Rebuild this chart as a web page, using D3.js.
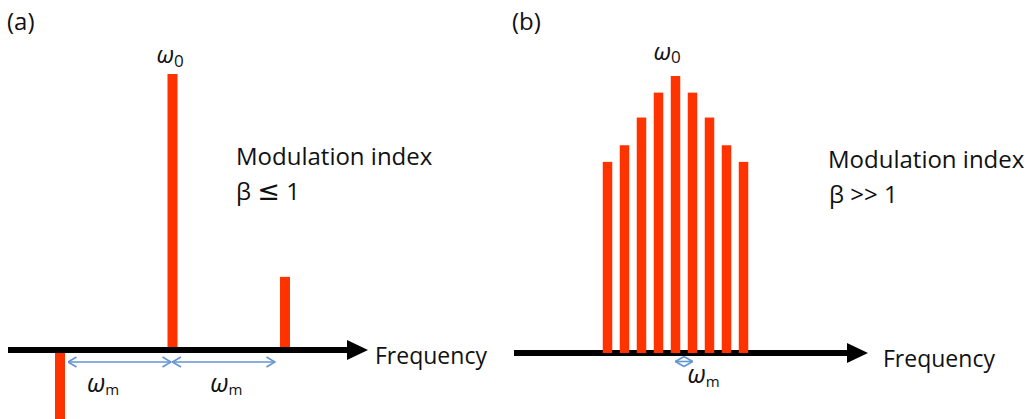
<!DOCTYPE html>
<html>
<head>
<meta charset="utf-8">
<script src="https://cdn.jsdelivr.net/npm/d3@7"></script>
<style>
  html, body { margin: 0; padding: 0; background: #ffffff; }
  svg { display: block; }
  text { font-family: "Open Sans", "DejaVu Sans", sans-serif; fill: #111; }
</style>
</head>
<body>
<svg id="chart" width="1031" height="419"></svg>
<script>
// Sideband orders and relative amplitudes of the phase-modulated spectrum
const ordersA = [-1, 0, 1];
const amplitudesA = [-0.265, 1, 0.265];          // small beta: carrier + first sidebands
const ordersB = [-4, -3, -2, -1, 0, 1, 2, 3, 4];
const amplitudesB = [0.69, 0.75, 0.85, 0.94, 1, 0.94, 0.85, 0.75, 0.69]; // large beta

const panelLabels = ["(a)", "(b)"];
const axisLabel = "Frequency";
const indexTitle = "Modulation index";
const betaRelations = [["≤", "1"], [">>", "1"]];

const barColor = "#ff3300";
const spacingColor = "#6495d2";

const svg = d3.select("#chart");
const defs = svg.append("defs");

// Open chevron head for the spacing arrows
defs.append("marker")
  .attr("id", "chev")
  .attr("viewBox", "0 0 10 12")
  .attr("refX", 9.5).attr("refY", 6)
  .attr("markerWidth", 10).attr("markerHeight", 12)
  .attr("markerUnits", "userSpaceOnUse")
  .attr("orient", "auto-start-reverse")
  .append("path")
  .attr("d", "M1,1 L9.5,6 L1,11")
  .attr("fill", "none")
  .attr("stroke", spacingColor)
  .attr("stroke-width", 1.6);

function frequencyAxis(g, x0, x1, y) {
  g.append("line")
    .attr("x1", x0).attr("x2", x1 - 18)
    .attr("y1", y).attr("y2", y)
    .attr("stroke", "#000").attr("stroke-width", 6);
  g.append("path")
    .attr("d", `M${x1 - 21},${y - 10} L${x1},${y} L${x1 - 21},${y + 10} Z`)
    .attr("fill", "#000");
}

function bars(g, orders, amps, x, y, w) {
  g.selectAll("rect.bar")
    .data(orders.map((o, i) => ({ o, a: amps[i] })))
    .join("rect")
    .attr("class", "bar")
    .attr("x", d => x(d.o) - w / 2)
    .attr("width", w)
    .attr("y", d => Math.min(y(d.a), y(0)))
    .attr("height", d => Math.abs(y(d.a) - y(0)))
    .attr("fill", barColor);
}

function omega(g, px, py, sub, size, subSize, subShift) {
  const t = g.append("text")
    .attr("x", px).attr("y", py)
    .style("font-size", size + "px");
  t.append("tspan").text("ω").style("font-style", "italic");
  t.append("tspan").text(sub)
    .attr("dy", subShift)
    .style("font-size", subSize + "px");
}

function betaLine(g, px, py, rel, bigRel) {
  const t = g.append("text").attr("x", px).attr("y", py).style("font-size", "24px");
  t.append("tspan").text("β ");
  t.append("tspan").text(rel[0])
    .style("font-size", bigRel ? "27px" : "24px")
    .style("font-family", bigRel ? "'DejaVu Sans', sans-serif" : null);
  t.append("tspan").text(" " + rel[1]);
}

function spacingArrow(g, xa, xb, y) {
  g.append("line")
    .attr("x1", xa).attr("x2", xb)
    .attr("y1", y).attr("y2", y)
    .attr("stroke", spacingColor).attr("stroke-width", 1.6)
    .attr("marker-start", "url(#chev)")
    .attr("marker-end", "url(#chev)");
}

// ---------- Panel (a): beta <= 1 ----------
const xA = d3.scaleLinear().domain([-1, 1]).range([60, 285]);
const yA = d3.scaleLinear().domain([0, 1]).range([350, 74]);
const gA = svg.append("g");

gA.append("text").attr("x", 7).attr("y", 30).style("font-size", "24px").text(panelLabels[0]);
bars(gA, ordersA, amplitudesA, xA, yA, 10);
frequencyAxis(gA, 8, 368, yA(0));
gA.append("text").attr("x", 375).attr("y", 364).style("font-size", "23px").text(axisLabel);

omega(gA, xA(0) - 16, 63, "0", 24, 17, 4);
gA.append("text").attr("x", 236).attr("y", 165).style("font-size", "24px").text(indexTitle);
betaLine(gA, 236, 200, betaRelations[0], true);

spacingArrow(gA, xA(-1) + 8, xA(0) - 1.5, 362);
spacingArrow(gA, xA(0) + 0, xA(1) - 10, 362);
omega(gA, xA(-0.76), 392, "m", 25, 15, 3);
omega(gA, xA(0.335), 392, "m", 25, 15, 3);

// ---------- Panel (b): beta >> 1 ----------
const xB = d3.scaleLinear().domain([-4, 4]).range([607.5, 743.5]);
const yB = d3.scaleLinear().domain([0, 1]).range([353, 76]);
const gB = svg.append("g");

gB.append("text").attr("x", 512).attr("y", 30).style("font-size", "24px").text(panelLabels[1]);
frequencyAxis(gB, 514, 868, yB(0));
bars(gB, ordersB, amplitudesB, xB, yB, 9.5);
gB.append("text").attr("x", 883).attr("y", 367).style("font-size", "23px").text(axisLabel);

omega(gB, xB(0) - 22, 60, "0", 24, 17, 3);
gB.append("text").attr("x", 828).attr("y", 168).style("font-size", "24px").text(indexTitle);
betaLine(gB, 829, 203, betaRelations[1], false);

spacingArrow(gB, xB(0), xB(1), 361.5);
omega(gB, xB(0.7), 383, "m", 25, 15, 4);
</script>
</body>
</html>
